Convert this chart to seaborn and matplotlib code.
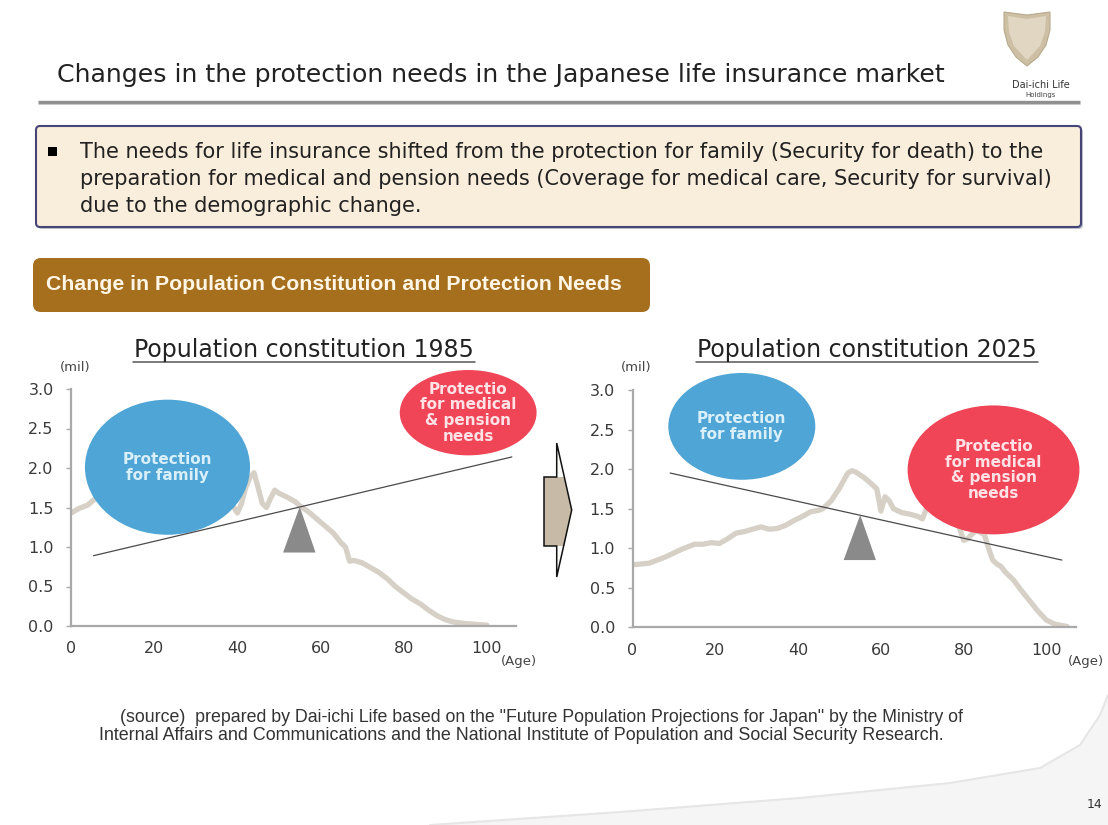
import matplotlib
matplotlib.use("Agg")
import matplotlib.pyplot as plt
import seaborn as sns
import pandas as pd
from matplotlib.patches import Ellipse, Polygon, FancyBboxPatch, Rectangle

# ---------------- data ----------------
ages_1985 = [0, 2, 4, 6, 8, 10, 12, 14, 16, 18, 20, 22, 24, 26, 28, 30, 32, 34, 36, 38,
             40, 41, 42, 43, 44, 45, 46, 47, 48, 49, 50, 52, 54, 55, 57, 59, 61, 63, 65,
             66, 67, 68, 70, 72, 74, 76, 78, 80, 82, 84, 86, 88, 90, 92, 95, 100]
pop_1985 = [1.43, 1.49, 1.53, 1.62, 1.70, 1.85, 1.95, 2.00, 1.80, 1.65, 1.55, 1.60, 1.60,
            1.55, 1.60, 1.70, 1.75, 1.80, 1.95, 1.60,
            1.43, 1.55, 1.75, 1.88, 1.94, 1.75, 1.55, 1.50, 1.62, 1.72, 1.68, 1.63, 1.57,
            1.52, 1.45, 1.36, 1.27, 1.18, 1.05,
            1.00, 0.82, 0.83, 0.80, 0.74, 0.68, 0.60, 0.50, 0.42, 0.34, 0.28, 0.20, 0.13,
            0.08, 0.05, 0.03, 0.01]

ages_2025 = [0, 2, 4, 6, 8, 10, 12, 14, 15, 17, 19, 21, 23, 25, 27, 29, 31, 33, 35, 37,
             39, 41, 43, 45, 46, 48, 50, 52, 53, 54, 56, 58, 59, 60, 61, 62, 63, 65, 67,
             69, 70, 71, 72, 74, 76, 77, 78, 79, 80, 81, 82, 83, 84, 85, 86, 87, 88, 89,
             90, 92, 94, 96, 98, 100, 102, 104, 105]
pop_2025 = [0.79, 0.80, 0.81, 0.85, 0.89, 0.94, 0.99, 1.03, 1.05, 1.05, 1.07, 1.06, 1.12,
            1.19, 1.21, 1.24, 1.27, 1.24, 1.25, 1.29,
            1.35, 1.40, 1.46, 1.48, 1.50, 1.60, 1.76, 1.95, 1.98, 1.96, 1.89, 1.80, 1.75,
            1.47, 1.65, 1.60, 1.50, 1.45, 1.43,
            1.40, 1.37, 1.50, 1.65, 1.80, 1.90, 1.70, 1.45, 1.25, 1.10, 1.12, 1.18, 1.22,
            1.20, 1.17, 1.00, 0.85, 0.80, 0.77,
            0.70, 0.60, 0.46, 0.33, 0.20, 0.09, 0.04, 0.02, 0.01]

x_ticks = [0, 20, 40, 60, 80, 100]
x_tick_labels = ["0", "20", "40", "60", "80", "100"]
y_ticks = [0.0, 0.5, 1.0, 1.5, 2.0, 2.5, 3.0]
y_tick_labels = ["0.0", "0.5", "1.0", "1.5", "2.0", "2.5", "3.0"]

chart_titles = ["Population constitution 1985", "Population constitution 2025"]
y_unit = "(mil)"
x_unit = "(Age)"

lever_1985_age = [5.4, 106.0]
lever_1985_val = [0.89, 2.14]
lever_2025_age = [9.1, 103.7]
lever_2025_val = [1.95, 0.85]
fulcrum_age = [51.0, 55.0, 58.8]
fulcrum_1985_val = [0.93, 1.51, 0.93]
fulcrum_2025_val = [0.85, 1.42, 0.85]

bubble_family = "Protection\nfor family"
bubble_medical = "Protectio\nfor medical\n& pension\nneeds"

slide_title = "Changes in the protection needs in the Japanese life insurance market"
box_lines = [
    "The needs for life insurance shifted from the protection for family (Security for death) to the",
    "preparation for medical and pension needs (Coverage for medical care, Security for survival)",
    "due to the demographic change.",
]
section_label = "Change in Population Constitution and Protection Needs"
source_lines = [
    "(source)  prepared by Dai-ichi Life based on the \"Future Population Projections for Japan\" by the Ministry of",
    "Internal Affairs and Communications and the National Institute of Population and Social Security Research.",
]
logo_name = "Dai-ichi Life"
logo_sub = "Holdings"
page_no = "14"

# ---------------- style ----------------
sns.set_theme(style="white")
plt.rcParams["font.family"] = ["DejaVu Sans"]

W, H = 1108, 825
fig = plt.figure(figsize=(W / 100, H / 100), dpi=100)
fig.patch.set_facecolor("white")

bg = fig.add_axes([0, 0, 1, 1])
bg.set_xlim(0, W)
bg.set_ylim(H, 0)
bg.axis("off")
bg.set_zorder(0)

renderer = fig.canvas.get_renderer()


def fit(t, width):
    w = t.get_window_extent(renderer=renderer).width
    t.set_fontsize(t.get_fontsize() * width / w)
    return t.get_fontsize()


# bottom swoosh
sw = [(430, 825), (620, 812), (800, 798), (950, 783), (1040, 768), (1080, 745),
      (1100, 715), (1108, 695), (1108, 825)]
bg.add_patch(Polygon(sw, closed=True, facecolor="#F5F5F5", edgecolor="none", zorder=0))
bg.plot([p[0] for p in sw[:-1]], [p[1] for p in sw[:-1]], color="#E6E6E6", lw=1.5, zorder=0)

# title
t = bg.text(57, 75, slide_title, fontsize=17, color="#222222", va="center", ha="left")
fit(t, 891)
bg.plot([38, 1080], [102, 102], color="#8E8E8E", lw=2.4, solid_capstyle="butt")
bg.plot([38, 1080], [104, 104], color="#C8C8C8", lw=0.8, solid_capstyle="butt")

# logo
shield = [(1004, 12), (1027, 15), (1050, 12), (1050, 30), (1046, 45), (1038, 57),
          (1027, 66), (1016, 57), (1008, 45), (1004, 30)]
bg.add_patch(Polygon(shield, closed=True, facecolor="#CDBFA3", edgecolor="#B8AA8E", lw=0.8))
inner = [(1008, 16), (1027, 19), (1046, 16), (1045, 32), (1040, 46), (1027, 60),
         (1014, 46), (1009, 32)]
bg.add_patch(Polygon(inner, closed=True, facecolor="#E0D6C2", edgecolor="none"))
t = bg.text(1041, 85, logo_name, fontsize=8, color="#333333", ha="center", va="center")
fit(t, 58)
bg.text(1041, 95, logo_sub, fontsize=5, color="#444444", ha="center", va="center")

# text box
bg.add_patch(FancyBboxPatch((38, 128), 1045, 101, boxstyle="round,pad=0,rounding_size=4",
                            facecolor="#9A9AA8", edgecolor="none", alpha=0.6))
bg.add_patch(FancyBboxPatch((36, 126), 1045, 101, boxstyle="round,pad=0,rounding_size=4",
                            facecolor="#F9EDDB", edgecolor="#45457A", lw=1.5))
bg.add_patch(Rectangle((48, 147), 9, 9, facecolor="black", edgecolor="none"))
t0 = bg.text(80, 152, box_lines[0], fontsize=13, color="#222222", va="center", ha="left")
fs = fit(t0, 963)
bg.text(80, 179, box_lines[1], fontsize=fs, color="#222222", va="center", ha="left")
bg.text(80, 206, box_lines[2], fontsize=fs, color="#222222", va="center", ha="left")

# section header
bg.add_patch(FancyBboxPatch((33, 258), 617, 54, boxstyle="round,pad=0,rounding_size=8",
                            facecolor="#A66F1E", edgecolor="none"))
t = bg.text(46, 285, section_label, fontsize=13, fontweight="bold", color="#FFF6E6",
            va="center", ha="left", family=["Liberation Sans", "DejaVu Sans"])
fit(t, 572)

# arrow between charts
arrow = [(544, 477), (556.7, 477), (556.7, 443), (571.7, 510), (556.7, 577),
         (556.7, 546), (544, 546)]
bg.add_patch(Polygon(arrow, closed=True, facecolor="#FAFAF8", edgecolor="none", zorder=1))
bg.add_patch(Polygon([(544, 477), (564.3, 477), (571.7, 510), (564.3, 546), (544, 546)],
                     closed=True, facecolor="#C7BBA8", edgecolor="none", zorder=1))
bg.add_patch(Polygon(arrow, closed=True, facecolor="none", edgecolor="#111111", lw=1.1, zorder=2))

# source + page number
t = bg.text(120, 718, source_lines[0], fontsize=10, color="#333333", va="center", ha="left",
            family=["Liberation Sans", "DejaVu Sans"])
fit(t, 848)
t = bg.text(99, 735, source_lines[1], fontsize=10, color="#333333", va="center", ha="left",
            family=["Liberation Sans", "DejaVu Sans"])
fit(t, 846)
bg.text(1095, 805, page_no, fontsize=9, color="#333333", ha="center", va="center")

# chart titles
for cx, txt in zip([303.5, 867], chart_titles):
    t = bg.text(cx, 350, txt, fontsize=17, color="#222222", ha="center", va="center")
    fit(t, 341)
    bg.plot([cx - 171, cx + 171], [362, 362], color="#555555", lw=1.1)

# units
bg.text(75, 367, y_unit, fontsize=9.5, color="#444444", ha="center", va="center")
bg.text(636, 367, y_unit, fontsize=9.5, color="#444444", ha="center", va="center")
bg.text(519, 662, x_unit, fontsize=9.5, color="#444444", ha="center", va="center")
bg.text(1086, 662, x_unit, fontsize=9.5, color="#444444", ha="center", va="center")

# ---------------- charts ----------------
ax1 = fig.add_axes([71 / W, 1 - 626 / H, 445 / W, 237 / H])
ax2 = fig.add_axes([632.5 / W, 1 - 627.3 / H, 443 / W, 237.3 / H])

df85 = pd.DataFrame({"age": ages_1985, "pop": pop_1985})
df25 = pd.DataFrame({"age": ages_2025, "pop": pop_2025})

BLUE = "#4FA5D5"
RED = "#EF4557"
CURVE = "#D6D0C7"

configs = [
    (ax1, df85, lever_1985_age, lever_1985_val, fulcrum_1985_val,
     dict(c=(23.2, 2.01), w=39.7, h=1.71), dict(c=(95.5, 2.70), w=32.9, h=1.08)),
    (ax2, df25, lever_2025_age, lever_2025_val, fulcrum_2025_val,
     dict(c=(26.4, 2.54), w=35.5, h=1.35), dict(c=(87.2, 1.99), w=41.5, h=1.63)),
]

for ax, df, lv_a, lv_v, fv, eb, er in configs:
    ax.set_facecolor("none")
    sns.lineplot(data=df, x="age", y="pop", ax=ax, color=CURVE, linewidth=3.8,
                 zorder=2, legend=False)
    ax.set_xlim(0, 107)
    ax.set_ylim(0, 3.0)
    ax.set_xticks(x_ticks)
    ax.set_xticklabels(x_tick_labels)
    ax.set_yticks(y_ticks)
    ax.set_yticklabels(y_tick_labels)
    ax.set_xlabel("")
    ax.set_ylabel("")
    for s in ["top", "right"]:
        ax.spines[s].set_visible(False)
    for s in ["left", "bottom"]:
        ax.spines[s].set_color("#A9A9A9")
        ax.spines[s].set_linewidth(1.6)
    ax.tick_params(axis="x", length=0, pad=11, labelsize=11.5, labelcolor="#3A3A3A")
    ax.tick_params(axis="y", length=3.5, width=1.0, color="#A9A9A9", pad=9,
                   labelsize=11.5, labelcolor="#3A3A3A", left=True)

    ax.add_patch(Ellipse(eb["c"], eb["w"], eb["h"], facecolor=BLUE, edgecolor="none",
                         zorder=3, clip_on=False))
    ax.add_patch(Ellipse(er["c"], er["w"], er["h"], facecolor=RED, edgecolor="none",
                         zorder=3, clip_on=False))
    ax.text(eb["c"][0], eb["c"][1], bubble_family, ha="center", va="center",
            fontsize=11, fontweight="bold", color="#D9EFFA", linespacing=1.05,
            zorder=5, clip_on=False)
    ax.text(er["c"][0], er["c"][1], bubble_medical, ha="center", va="center",
            fontsize=11, fontweight="bold", color="#FFE1E6", linespacing=1.05,
            zorder=5, clip_on=False)

    ax.plot(lv_a, lv_v, color="#4A4A4A", lw=0.9, zorder=4, clip_on=False)
    ax.fill(fulcrum_age, fv, color="#8A8A8A", zorder=4, lw=0)

fig.savefig("out.png", dpi=100, facecolor="white")
